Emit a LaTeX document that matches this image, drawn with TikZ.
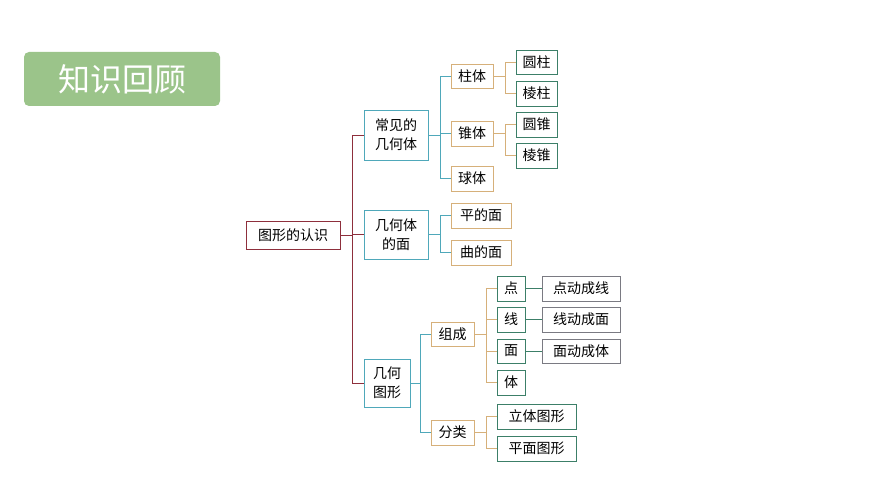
\documentclass[tikz,border=0pt]{standalone}
\usepackage{fontspec}
\setmainfont{Noto Sans CJK SC}
\definecolor{ttl}{HTML}{9BC48A}
\definecolor{mr}{HTML}{8E2F3C}
\definecolor{tl}{HTML}{4FA8BA}
\definecolor{tn}{HTML}{D6B07A}
\definecolor{dg}{HTML}{3C7F68}
\definecolor{gy}{HTML}{7A7A82}
\begin{document}
\begin{tikzpicture}[x=1pt,y=-1pt,
  bx/.style={draw=#1,line width=0.9pt,inner sep=0pt,font=\fontsize{14}{19}\selectfont,align=center},
  ln/.style={draw=#1,line width=0.9pt}]
\useasboundingbox (0,0) rectangle (870,489);
\newcommand\B[7]{\node[bx=#6,minimum width=#3-#2,minimum height=#5-#4] (#1) at ({(#2+#3)/2},{(#4+#5)/2}) {#7};}
\node[fill=ttl,rounded corners=5pt,minimum width=196,minimum height=54,text=white,font=\fontsize{32}{36}\selectfont] (title) at (122,79) {知识回顾};
\B{r}{246}{340}{221}{249}{mr}{图形的认识}
\B{a}{364}{428}{110}{160}{tl}{常见的\\几何体}
\B{b}{364}{428}{210}{259}{tl}{几何体\\的面}
\B{c}{364}{410}{359}{407}{tl}{几何\\图形}
\B{a1}{451}{493}{64}{88}{tn}{柱体}
\B{a2}{451}{493}{121}{146}{tn}{锥体}
\B{a3}{451}{493}{166}{191}{tn}{球体}
\B{a11}{516}{557}{50}{74}{dg}{圆柱}
\B{a12}{516}{557}{81}{106}{dg}{棱柱}
\B{a21}{516}{557}{112}{137}{dg}{圆锥}
\B{a22}{516}{557}{143}{168}{dg}{棱锥}
\B{b1}{451}{511}{203}{228}{tn}{平的面}
\B{b2}{451}{511}{240}{265}{tn}{曲的面}
\B{c1}{431}{474}{322}{346}{tn}{组成}
\B{c2}{431}{474}{420}{445}{tn}{分类}
\B{d1}{497}{525}{276}{301}{dg}{点}
\B{d2}{497}{525}{307}{332}{dg}{线}
\B{d3}{497}{525}{339}{363}{dg}{面}
\B{d4}{497}{525}{370}{395}{dg}{体}
\B{e1}{542}{620}{276}{301}{gy}{点动成线}
\B{e2}{542}{620}{307}{332}{gy}{线动成面}
\B{e3}{542}{620}{339}{363}{gy}{面动成体}
\B{f1}{497}{576}{404}{429}{dg}{立体图形}
\B{f2}{497}{576}{436}{461}{dg}{平面图形}
\newcommand\E[4]{\draw[ln=#4] (#1.east) -- (#3,0 |- #1.east) |- (#2.west);}
\E{r}{a}{352}{mr}\E{r}{b}{352}{mr}\E{r}{c}{352}{mr}
\E{a}{a1}{440}{tl}\E{a}{a2}{440}{tl}\E{a}{a3}{440}{tl}
\E{b}{b1}{440}{tl}\E{b}{b2}{440}{tl}
\E{c}{c1}{420}{tl}\E{c}{c2}{420}{tl}
\E{a1}{a11}{505}{tn}\E{a1}{a12}{505}{tn}
\E{a2}{a21}{505}{tn}\E{a2}{a22}{505}{tn}
\E{c1}{d1}{486}{tn}\E{c1}{d2}{486}{tn}\E{c1}{d3}{486}{tn}\E{c1}{d4}{486}{tn}
\E{c2}{f1}{486}{tn}\E{c2}{f2}{486}{tn}
\draw[ln=dg] (d1) -- (e1); \draw[ln=dg] (d2) -- (e2); \draw[ln=dg] (d3) -- (e3);
\end{tikzpicture}
\end{document}
